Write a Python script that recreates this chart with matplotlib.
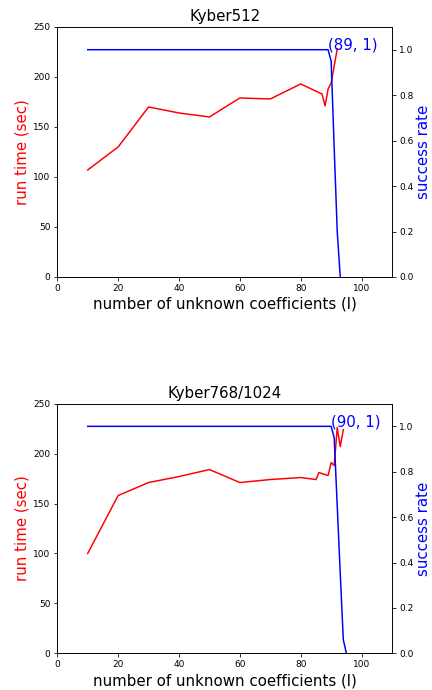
import matplotlib
matplotlib.use("Agg")
import matplotlib.pyplot as plt

# Kyber512
l_512 = [10, 20, 30, 40, 50, 60, 70, 80, 87, 88, 89, 90, 91, 92]
tempo_512 = [107, 130, 170, 164, 160, 179, 178, 193, 183, 171, 188, 194, 211, 228]
l_succ_512 = [10, 20, 30, 40, 50, 60, 70, 80, 89, 90, 91, 92, 93]
succ_512 = [1, 1, 1, 1, 1, 1, 1, 1, 1, 0.95, 0.57, 0.2, 0.0]

# Kyber768/1024
l_768 = [10, 20, 30, 40, 50, 60, 70, 80, 85, 86, 89, 90, 91, 92, 93, 94]
tempo_768 = [100, 158, 171, 177, 184, 171, 174, 176, 174, 181, 178, 191, 188, 226, 207, 224]
l_succ_768 = [10, 20, 30, 40, 50, 60, 70, 80, 90, 91, 92, 93, 94, 95]
succ_768 = [1, 1, 1, 1, 1, 1, 1, 1, 1, 0.95, 0.65, 0.35, 0.06, 0.0]

fig = plt.figure(figsize=(6, 690 / 72), dpi=72)


def disegna(rect, titolo, l, tempo, l_succ, succ, punto):
    ax = fig.add_axes(rect)
    ax.plot(l, tempo, color="red", linewidth=1.5)
    ax.set_xlim(0, 110)
    ax.set_ylim(0, 250)
    ax.tick_params(labelsize=9)
    ax.set_xlabel("number of unknown coefficients (l)", fontsize=15)
    ax.set_ylabel("run time (sec)", color="red", fontsize=15)
    ax.set_title(titolo, fontsize=15)

    ax2 = ax.twinx()
    ax2.plot(l_succ, succ, color="blue", linewidth=1.5)
    ax2.set_ylim(0, 1.1)
    ax2.tick_params(labelsize=9)
    ax2.set_ylabel("success rate", color="blue", fontsize=15, labelpad=3)
    ax2.annotate("(%d, 1)" % punto, xy=(punto, 1), color="blue", fontsize=15)


disegna([0.1326, 0.5986, 0.7748, 0.3623], "Kyber512", l_512, tempo_512, l_succ_512, succ_512, 89)
disegna([0.1326, 0.0532, 0.7748, 0.3618], "Kyber768/1024", l_768, tempo_768, l_succ_768, succ_768, 90)

fig.savefig("out.png", dpi=72)
